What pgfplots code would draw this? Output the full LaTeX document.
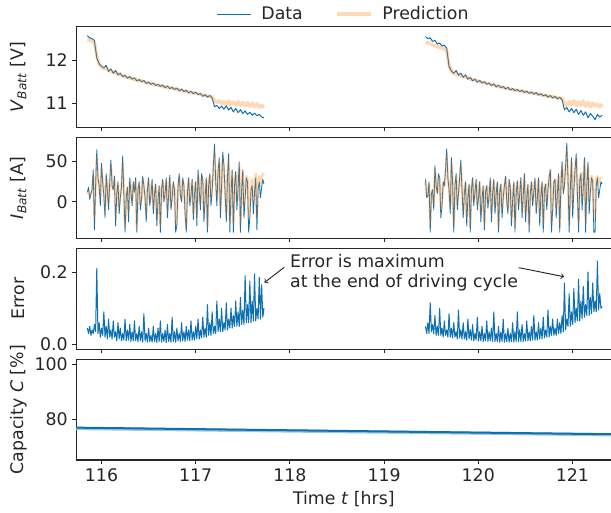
\documentclass[border=0pt]{standalone}
\usepackage{pgfplots}
\pgfplotsset{compat=1.18}
\usepackage{pgfplotstable}
\usepackage{fontspec}
\setmainfont{DejaVu Sans}
\definecolor{cblue}{RGB}{12,112,178}
\definecolor{corange}{RGB}{255,127,14}
\definecolor{txt}{RGB}{38,38,38}

\pgfplotstableread{
t V Vp
115.850 12.57 12.48
115.875 12.52 12.46
115.900 12.50 12.44
115.925 12.46 12.40
115.950 12.05 12.10
115.975 11.92 11.90
116.000 11.86 11.84
116.025 11.82 11.80
116.050 11.88 11.82
116.075 11.74 11.76
116.100 11.80 11.75
116.125 11.70 11.72
116.150 11.76 11.70
116.175 11.66 11.68
116.200 11.70 11.66
116.225 11.62 11.64
116.250 11.65 11.62
116.275 11.58 11.60
116.300 11.62 11.59
116.325 11.56 11.57
116.350 11.59 11.56
116.375 11.52 11.54
116.400 11.55 11.53
116.425 11.50 11.51
116.450 11.53 11.50
116.475 11.46 11.48
116.500 11.49 11.47
116.525 11.44 11.46
116.550 11.47 11.45
116.575 11.41 11.43
116.600 11.44 11.42
116.625 11.39 11.41
116.650 11.42 11.40
116.675 11.36 11.38
116.700 11.40 11.37
116.725 11.34 11.36
116.750 11.37 11.35
116.775 11.32 11.34
116.800 11.35 11.33
116.825 11.29 11.31
116.850 11.33 11.30
116.875 11.27 11.29
116.900 11.30 11.28
116.925 11.24 11.26
116.950 11.28 11.25
116.975 11.22 11.24
117.000 11.26 11.23
117.025 11.20 11.22
117.050 11.23 11.21
117.075 11.16 11.19
117.100 11.20 11.18
117.125 11.14 11.17
117.150 11.18 11.16
117.175 11.12 11.15
117.200 10.92 11.05
117.225 10.95 11.02
117.250 10.88 11.06
117.275 10.93 10.98
117.300 10.86 11.04
117.325 10.94 10.97
117.350 10.84 11.05
117.375 10.90 10.96
117.400 10.80 11.03
117.425 10.88 10.95
117.450 10.78 11.04
117.475 10.85 10.96
117.500 10.76 11.02
117.525 10.82 10.94
117.550 10.74 11.01
117.575 10.79 10.93
117.600 10.72 11.00
117.625 10.77 10.92
117.650 10.71 10.99
117.675 10.74 10.91
117.700 10.68 10.95
117.725 10.66 10.90
}\segA

\pgfplotstableread{
t V Vp
119.440 12.55 12.42
119.465 12.50 12.40
119.490 12.52 12.38
119.515 12.44 12.36
119.540 12.46 12.34
119.565 12.38 12.32
119.590 12.40 12.30
119.615 12.33 12.28
119.640 12.35 12.26
119.665 12.28 12.22
119.690 11.85 11.90
119.715 11.75 11.74
119.740 11.70 11.68
119.765 11.76 11.68
119.790 11.65 11.66
119.815 11.70 11.64
119.840 11.60 11.62
119.865 11.66 11.61
119.890 11.56 11.59
119.915 11.60 11.57
119.940 11.52 11.55
119.965 11.56 11.54
119.990 11.49 11.52
120.015 11.53 11.51
120.040 11.47 11.49
120.065 11.50 11.48
120.090 11.44 11.46
120.115 11.47 11.45
120.140 11.41 11.43
120.165 11.45 11.42
120.190 11.38 11.40
120.215 11.42 11.39
120.240 11.36 11.38
120.265 11.39 11.37
120.290 11.33 11.35
120.315 11.37 11.34
120.340 11.31 11.33
120.365 11.34 11.32
120.390 11.29 11.31
120.415 11.32 11.30
120.440 11.27 11.29
120.465 11.30 11.28
120.490 11.25 11.27
120.515 11.28 11.26
120.540 11.23 11.25
120.565 11.26 11.24
120.590 11.21 11.23
120.615 11.25 11.22
120.640 11.19 11.21
120.665 11.22 11.20
120.690 11.17 11.19
120.715 11.20 11.18
120.740 11.14 11.17
120.765 11.18 11.16
120.790 11.12 11.15
120.815 11.16 11.14
120.840 11.10 11.13
120.865 11.14 11.12
120.890 11.08 11.11
120.915 10.85 11.00
120.940 10.90 10.95
120.965 10.80 11.04
120.990 10.88 10.96
121.015 10.78 11.06
121.040 10.86 10.94
121.065 10.74 11.03
121.090 10.83 10.95
121.115 10.72 11.05
121.140 10.80 10.93
121.165 10.66 11.02
121.190 10.76 10.92
121.215 10.70 11.00
121.240 10.62 10.94
121.265 10.74 10.98
121.290 10.68 10.92
121.315 10.72 10.98
}\segB

\pgfplotstableread{
t I Ip
115.8500 12 10
115.8625 18 14
115.8750 3 8
115.8875 10 10
115.9000 15 12
115.9125 40 32
115.9250 -35 -20
115.9375 20 18
115.9500 65 55
115.9625 30 28
115.9750 20 22
115.9875 -5 5
116.0000 48 42
116.0125 25 24
116.0250 8 12
116.0375 -20 -10
116.0500 35 30
116.0625 15 16
116.0750 -10 0
116.0875 25 22
116.1000 52 45
116.1125 20 20
116.1250 15 15
116.1375 32 28
116.1500 -30 -18
116.1625 10 10
116.1750 25 22
116.1875 -15 -5
116.2000 5 8
116.2125 20 18
116.2250 57 48
116.2375 10 12
116.2500 -38 -30
116.2625 5 6
116.2750 18 18
116.2875 -25 -12
116.3000 30 26
116.3125 12 14
116.3250 -5 2
116.3375 25 22
116.3500 12 12
116.3625 30 26
116.3750 -38 -32
116.3875 15 15
116.4000 25 22
116.4125 -10 -2
116.4250 3 6
116.4375 32 28
116.4500 20 18
116.4625 5 8
116.4750 -25 -15
116.4875 15 14
116.5000 30 26
116.5125 -5 2
116.5250 8 10
116.5375 28 24
116.5500 -15 -8
116.5625 10 10
116.5750 22 20
116.5875 -30 -20
116.6000 2 6
116.6125 20 18
116.6250 -38 -30
116.6375 15 14
116.6500 28 25
116.6625 0 4
116.6750 10 12
116.6875 30 26
116.7000 -20 -12
116.7125 8 10
116.7250 33 30
116.7375 -10 -2
116.7500 5 8
116.7625 25 22
116.7750 15 15
116.7875 -38 -28
116.8000 -30 -22
116.8125 20 18
116.8250 35 30
116.8375 8 10
116.8500 0 5
116.8625 30 26
116.8750 20 20
116.8875 -15 -6
116.9000 -38 -30
116.9125 12 12
116.9250 30 28
116.9375 -5 2
116.9500 8 10
116.9625 28 25
116.9750 -22 -15
116.9875 10 12
117.0000 25 24
117.0125 -30 -18
117.0250 40 36
117.0375 15 16
117.0500 -10 -2
117.0625 35 30
117.0750 28 26
117.0875 -25 -12
117.1000 5 10
117.1125 30 28
117.1250 -38 -30
117.1375 20 20
117.1500 35 32
117.1625 -5 4
117.1750 15 18
117.1875 45 40
117.2000 72 62
117.2125 25 26
117.2250 -5 5
117.2375 38 34
117.2500 55 50
117.2625 -20 -8
117.2750 20 24
117.2875 62 55
117.3000 45 42
117.3125 10 15
117.3250 -25 -15
117.3375 30 30
117.3500 60 52
117.3625 -38 -25
117.3750 10 15
117.3875 40 38
117.4000 -38 -28
117.4125 20 24
117.4250 38 36
117.4375 -10 2
117.4500 18 22
117.4625 50 45
117.4750 -38 -28
117.4875 15 20
117.5000 40 38
117.5125 -20 -5
117.5250 5 15
117.5375 30 32
117.5500 25 30
117.5625 -38 -20
117.5750 -20 -8
117.5875 15 25
117.6000 20 28
117.6125 -15 0
117.6250 12 22
117.6375 30 35
117.6500 -35 -20
117.6625 15 26
117.6750 25 32
117.6875 5 20
117.7000 18 30
117.7125 28 35
117.7250 22 33
}\curA

\pgfplotstableread{
t I Ip
119.4400 28 25
119.4525 5 8
119.4650 8 10
119.4775 25 22
119.4900 -38 -25
119.5025 10 10
119.5150 15 15
119.5275 -10 -2
119.5400 45 40
119.5525 20 20
119.5650 10 12
119.5775 35 30
119.5900 30 28
119.6025 -20 -10
119.6150 -5 2
119.6275 25 22
119.6400 20 20
119.6525 40 35
119.6650 66 58
119.6775 30 28
119.6900 15 18
119.7025 -15 -5
119.7150 55 48
119.7275 25 24
119.7400 -38 -28
119.7525 20 18
119.7650 35 32
119.7775 -10 0
119.7900 10 12
119.8025 30 28
119.8150 52 45
119.8275 15 16
119.8400 -20 -12
119.8525 10 10
119.8650 25 24
119.8775 -30 -18
119.8900 5 8
119.9025 22 20
119.9150 -38 -30
119.9275 15 15
119.9400 30 28
119.9525 -5 2
119.9650 12 14
119.9775 28 25
119.9900 -10 -4
120.0025 5 8
120.0150 25 24
120.0275 -25 -15
120.0400 3 6
120.0525 20 18
120.0650 -35 -26
120.0775 12 12
120.0900 20 20
120.1025 -8 0
120.1150 8 10
120.1275 30 26
120.1400 -25 -16
120.1525 10 10
120.1650 28 26
120.1775 -15 -5
120.1900 10 12
120.2025 25 22
120.2150 -38 -30
120.2275 12 12
120.2400 22 22
120.2525 -20 -10
120.2650 5 8
120.2775 20 18
120.2900 32 30
120.3025 0 5
120.3150 -15 -8
120.3275 28 25
120.3400 18 18
120.3525 -30 -20
120.3650 2 5
120.3775 25 22
120.3900 -38 -30
120.4025 10 12
120.4150 26 25
120.4275 -10 -2
120.4400 10 12
120.4525 30 26
120.4650 -20 -12
120.4775 8 10
120.4900 35 32
120.5025 -25 -15
120.5150 5 8
120.5275 22 20
120.5400 -38 -30
120.5525 10 12
120.5650 25 24
120.5775 -5 2
120.5900 12 14
120.6025 30 26
120.6150 -15 -8
120.6275 5 8
120.6400 30 28
120.6525 -30 -18
120.6650 8 12
120.6775 25 22
120.6900 -38 -28
120.7025 15 15
120.7150 22 22
120.7275 -10 0
120.7400 15 18
120.7525 30 28
120.7650 40 40
120.7775 -38 -25
120.7900 -10 -2
120.8025 25 24
120.8150 28 28
120.8275 -20 -8
120.8400 10 15
120.8525 35 32
120.8650 -38 -28
120.8775 20 22
120.8900 50 46
120.9025 10 15
120.9150 20 25
120.9275 45 42
120.9400 73 65
120.9525 30 32
120.9650 -38 -25
120.9775 15 18
120.9900 55 50
121.0025 -20 -5
121.0150 15 22
121.0275 40 40
121.0400 60 55
121.0525 10 18
121.0650 -38 -25
121.0775 25 28
121.0900 35 36
121.1025 -10 5
121.1150 18 25
121.1275 55 50
121.1400 -38 -25
121.1525 20 25
121.1650 50 45
121.1775 -15 0
121.1900 12 22
121.2025 30 32
121.2150 25 30
121.2275 -38 -18
121.2400 -38 -20
121.2525 20 28
121.2650 30 32
121.2775 5 22
121.2900 15 28
121.3025 25 30
121.3150 22 30
}\curB

\pgfplotstableread{
t E
115.8500 0.045
115.8625 0.030
115.8750 0.050
115.8875 0.025
115.9000 0.040
115.9125 0.030
115.9250 0.055
115.9375 0.035
115.9500 0.210
115.9625 0.030
115.9750 0.060
115.9875 0.020
116.0000 0.045
116.0125 0.025
116.0250 0.090
116.0375 0.020
116.0500 0.050
116.0625 0.015
116.0750 0.070
116.0875 0.020
116.1000 0.040
116.1125 0.015
116.1250 0.065
116.1375 0.020
116.1500 0.035
116.1625 0.010
116.1750 0.060
116.1875 0.015
116.2000 0.045
116.2125 0.010
116.2250 0.030
116.2375 0.012
116.2500 0.070
116.2625 0.010
116.2750 0.040
116.2875 0.012
116.3000 0.055
116.3125 0.008
116.3250 0.035
116.3375 0.010
116.3500 0.065
116.3625 0.010
116.3750 0.030
116.3875 0.008
116.4000 0.050
116.4125 0.010
116.4250 0.035
116.4375 0.006
116.4500 0.085
116.4625 0.010
116.4750 0.030
116.4875 0.006
116.5000 0.045
116.5125 0.008
116.5250 0.025
116.5375 0.006
116.5500 0.050
116.5625 0.008
116.5750 0.030
116.5875 0.005
116.6000 0.045
116.6125 0.008
116.6250 0.065
116.6375 0.006
116.6500 0.030
116.6625 0.008
116.6750 0.040
116.6875 0.005
116.7000 0.055
116.7125 0.008
116.7250 0.030
116.7375 0.006
116.7500 0.075
116.7625 0.008
116.7750 0.035
116.7875 0.006
116.8000 0.045
116.8125 0.010
116.8250 0.030
116.8375 0.008
116.8500 0.060
116.8625 0.010
116.8750 0.035
116.8875 0.008
116.9000 0.050
116.9125 0.012
116.9250 0.040
116.9375 0.010
116.9500 0.065
116.9625 0.012
116.9750 0.035
116.9875 0.012
117.0000 0.050
117.0125 0.015
117.0250 0.070
117.0375 0.015
117.0500 0.040
117.0625 0.018
117.0750 0.075
117.0875 0.020
117.1000 0.045
117.1125 0.020
117.1250 0.110
117.1375 0.025
117.1500 0.060
117.1625 0.025
117.1750 0.090
117.1875 0.030
117.2000 0.050
117.2125 0.030
117.2250 0.120
117.2375 0.035
117.2500 0.070
117.2625 0.035
117.2750 0.100
117.2875 0.035
117.3000 0.060
117.3125 0.040
117.3250 0.115
117.3375 0.040
117.3500 0.070
117.3625 0.045
117.3750 0.100
117.3875 0.045
117.4000 0.080
117.4125 0.050
117.4250 0.120
117.4375 0.050
117.4500 0.090
117.4625 0.050
117.4750 0.130
117.4875 0.055
117.5000 0.095
117.5125 0.055
117.5250 0.190
117.5375 0.060
117.5500 0.110
117.5625 0.060
117.5750 0.175
117.5875 0.060
117.6000 0.120
117.6125 0.065
117.6250 0.195
117.6375 0.065
117.6500 0.100
117.6625 0.070
117.6750 0.185
117.6875 0.070
117.7000 0.165
117.7125 0.075
117.7250 0.100
}\errA

\pgfplotstableread{
t E
119.4400 0.050
119.4525 0.030
119.4650 0.060
119.4775 0.030
119.4900 0.115
119.5025 0.035
119.5150 0.055
119.5275 0.030
119.5400 0.080
119.5525 0.025
119.5650 0.050
119.5775 0.025
119.5900 0.100
119.6025 0.025
119.6150 0.045
119.6275 0.020
119.6400 0.065
119.6525 0.025
119.6650 0.040
119.6775 0.020
119.6900 0.085
119.7025 0.020
119.7150 0.045
119.7275 0.018
119.7400 0.060
119.7525 0.020
119.7650 0.035
119.7775 0.015
119.7900 0.095
119.8025 0.018
119.8150 0.040
119.8275 0.015
119.8400 0.060
119.8525 0.015
119.8650 0.035
119.8775 0.012
119.8900 0.070
119.9025 0.015
119.9150 0.040
119.9275 0.012
119.9400 0.055
119.9525 0.010
119.9650 0.030
119.9775 0.012
119.9900 0.075
120.0025 0.010
120.0150 0.035
120.0275 0.010
120.0400 0.050
120.0525 0.008
120.0650 0.030
120.0775 0.010
120.0900 0.065
120.1025 0.008
120.1150 0.035
120.1275 0.010
120.1400 0.045
120.1525 0.008
120.1650 0.090
120.1775 0.008
120.1900 0.030
120.2025 0.008
120.2150 0.050
120.2275 0.006
120.2400 0.035
120.2525 0.008
120.2650 0.070
120.2775 0.006
120.2900 0.030
120.3025 0.008
120.3150 0.045
120.3275 0.006
120.3400 0.030
120.3525 0.008
120.3650 0.060
120.3775 0.006
120.3900 0.035
120.4025 0.008
120.4150 0.090
120.4275 0.008
120.4400 0.040
120.4525 0.008
120.4650 0.055
120.4775 0.008
120.4900 0.030
120.5025 0.010
120.5150 0.065
120.5275 0.010
120.5400 0.035
120.5525 0.010
120.5650 0.050
120.5775 0.012
120.5900 0.080
120.6025 0.012
120.6150 0.035
120.6275 0.012
120.6400 0.060
120.6525 0.015
120.6650 0.045
120.6775 0.015
120.6900 0.075
120.7025 0.018
120.7150 0.040
120.7275 0.020
120.7400 0.095
120.7525 0.020
120.7650 0.050
120.7775 0.025
120.7900 0.070
120.8025 0.025
120.8150 0.045
120.8275 0.025
120.8400 0.070
120.8525 0.030
120.8650 0.060
120.8775 0.030
120.8900 0.080
120.9025 0.035
120.9150 0.170
120.9275 0.040
120.9400 0.070
120.9525 0.050
120.9650 0.140
120.9775 0.050
120.9900 0.090
121.0025 0.055
121.0150 0.155
121.0275 0.060
121.0400 0.100
121.0525 0.065
121.0650 0.180
121.0775 0.065
121.0900 0.120
121.1025 0.070
121.1150 0.160
121.1275 0.075
121.1400 0.110
121.1525 0.080
121.1650 0.200
121.1775 0.080
121.1900 0.130
121.2025 0.085
121.2150 0.170
121.2275 0.090
121.2400 0.120
121.2525 0.090
121.2650 0.230
121.2775 0.095
121.2900 0.140
121.3025 0.100
121.3150 0.105
}\errB

\pgfplotsset{
  panel/.style={
    scale only axis, width=401.25pt, height=75.4pt,
    xmin=115.73, xmax=121.415,
    xtick={116,117,118,119,120,121},
    tick align=outside, xtick pos=bottom, ytick pos=left,
    major tick length=2.8pt,
    tick style={line width=0.75pt, color=txt},
    axis line style={line width=0.8pt, color=txt},
    tick label style={font=\fontsize{13}{15}\selectfont, text=txt},
    label style={font=\fontsize{13}{15}\selectfont, text=txt},
    /pgf/number format/assume math mode=true,
    ylabel style={at={(axis description cs:-0.108,0.5)}, anchor=center},
    clip mode=individual,
  },
}

\begin{document}
\begin{tikzpicture}
\useasboundingbox (-57pt,20pt) rectangle (400.85pt,-363.7pt);

% Panel 1: voltage
\begin{axis}[panel, at={(0,0)}, anchor=north west,
  ymin=10.44, ymax=12.78, ytick={11,12}, xticklabels={},
  ylabel={\textit{V}\textsubscript{\textit{Batt}} [V]},
  legend style={at={(0.5,1.126)}, anchor=center, draw=none, fill=none,
    legend columns=2, font=\fontsize{13}{15}\selectfont, text=txt,
    /tikz/every even column/.append style={column sep=22pt}},
  legend cell align=left,
  legend image code/.code={\draw[#1] (0pt,0pt) -- (25.5pt,0pt); \path (31pt,0pt);},
]
\addplot[cblue, line width=0.75pt, line join=round] table[x=t,y=V]{\segA};
\addplot[corange, opacity=0.3, line width=2.6pt, line join=round] table[x=t,y=Vp]{\segA};
\addplot[cblue, line width=0.75pt, line join=round, forget plot] table[x=t,y=V]{\segB};
\addplot[corange, opacity=0.3, line width=2.6pt, line join=round, forget plot] table[x=t,y=Vp]{\segB};
\legend{Data, Prediction}
\end{axis}

% Panel 2: current
\begin{axis}[panel, at={(0,-83.1pt)}, anchor=north west,
  ymin=-45.4, ymax=80, ytick={0,50}, xticklabels={},
  ylabel={\textit{I}\textsubscript{\textit{Batt}} [A]},
]
\addplot[cblue, line width=0.6pt, line join=round] table[x=t,y=I]{\curA};
\addplot[corange, opacity=0.3, line width=1.8pt, line join=round] table[x=t,y=Ip]{\curA};
\addplot[cblue, line width=0.6pt, line join=round] table[x=t,y=I]{\curB};
\addplot[corange, opacity=0.3, line width=1.8pt, line join=round] table[x=t,y=Ip]{\curB};
\end{axis}

% Panel 3: error
\begin{axis}[panel, at={(0,-166.2pt)}, anchor=north west,
  ymin=-0.013, ymax=0.265, ytick={0,0.2}, xticklabels={},
  yticklabel style={/pgf/number format/.cd, fixed, fixed zerofill, precision=1},
  ylabel={Error},
]
\addplot[cblue, line width=0.75pt, line join=round] table[x=t,y=E]{\errA};
\addplot[cblue, line width=0.75pt, line join=round] table[x=t,y=E]{\errB};
\node[anchor=north west, align=left, inner sep=0pt, text=txt,
  font=\fontsize{13}{15}\selectfont] at (axis cs:118.0,0.250)
  {Error is maximum\\at the end of driving cycle};
\draw[->, txt, line width=0.7pt] (axis cs:117.94,0.213) -- (axis cs:117.73,0.171);
\draw[->, txt, line width=0.7pt] (axis cs:120.43,0.212) -- (axis cs:120.91,0.187);
\end{axis}

% Panel 4: capacity
\begin{axis}[panel, at={(0,-249.3pt)}, anchor=north west,
  ymin=65.1, ymax=101.8, ytick={80,100},
  xlabel={Time \textit{t} [hrs]},
  xlabel style={at={(axis description cs:0.5,-0.388)}, anchor=center},
  ylabel={Capacity \textit{C} [\%]},
]
\addplot[cblue!40, line width=2.4pt] coordinates {(115.73,76.6) (121.415,74.3)};
\addplot[cblue, line width=1.5pt] coordinates {(115.73,76.9) (121.415,74.5)};
\end{axis}
\end{tikzpicture}
\end{document}
